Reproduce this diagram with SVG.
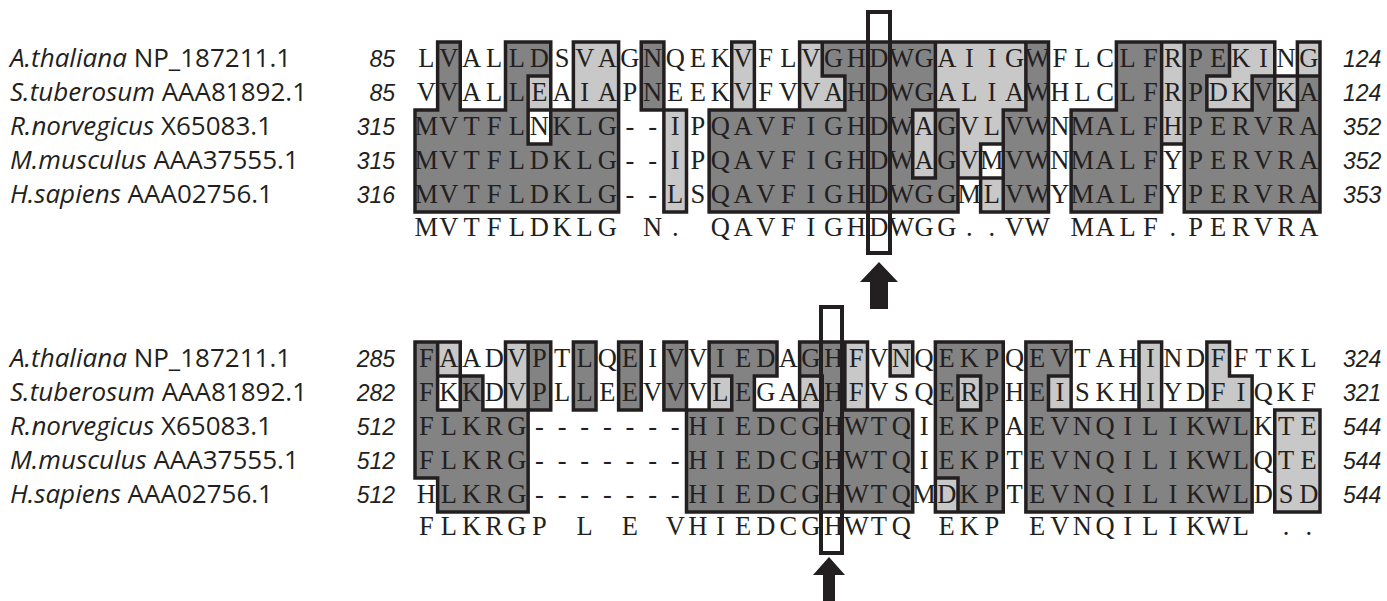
<svg xmlns="http://www.w3.org/2000/svg" width="1387" height="601" viewBox="0 0 1387 601">
<style>
.d{fill:#838383}
.l{fill:#c8c8c9}
.ol{fill:none;stroke:#231f20;stroke-width:3.5;stroke-linecap:square;vector-effect:non-scaling-stroke}
.seq{font-family:"Liberation Serif",serif;font-size:26.5px;fill:#231f20;text-anchor:middle}
.lab{font-family:"Open Sans","Noto Sans",sans-serif;font-size:26px;fill:#231f20}
.num{font-family:"Liberation Sans",Arial,sans-serif;font-size:23px;font-style:italic;fill:#231f20}
.nl{text-anchor:end}
.hl{fill:none;stroke:#231f20;stroke-width:4}
.arr{fill:#231f20}
</style>

<g id="top-shading" transform="translate(415,42) scale(22.625,34)">
  <rect class="d" x="1" y="0" width="1" height="1"/><rect class="d" x="4" y="0" width="2" height="1"/><rect class="d" x="10" y="0" width="1" height="1"/><rect class="d" x="18" y="0" width="5" height="1"/><rect class="d" x="27" y="0" width="1" height="1"/><rect class="d" x="31" y="0" width="2" height="1"/><rect class="d" x="34" y="0" width="2" height="1"/>
  <rect class="l" x="7" y="0" width="2" height="1"/><rect class="l" x="14" y="0" width="1" height="1"/><rect class="l" x="17" y="0" width="1" height="1"/><rect class="l" x="23" y="0" width="4" height="1"/><rect class="l" x="33" y="0" width="1" height="1"/><rect class="l" x="36" y="0" width="2" height="1"/><rect class="l" x="39" y="0" width="1" height="1"/>
  <rect class="d" x="1" y="1" width="1" height="1"/><rect class="d" x="4" y="1" width="1" height="1"/><rect class="d" x="10" y="1" width="1" height="1"/><rect class="d" x="19" y="1" width="4" height="1"/><rect class="d" x="27" y="1" width="1" height="1"/><rect class="d" x="31" y="1" width="2" height="1"/><rect class="d" x="34" y="1" width="1" height="1"/><rect class="d" x="37" y="1" width="1" height="1"/><rect class="d" x="39" y="1" width="1" height="1"/>
  <rect class="l" x="5" y="1" width="1" height="1"/><rect class="l" x="7" y="1" width="2" height="1"/><rect class="l" x="14" y="1" width="1" height="1"/><rect class="l" x="17" y="1" width="2" height="1"/><rect class="l" x="23" y="1" width="4" height="1"/><rect class="l" x="33" y="1" width="1" height="1"/><rect class="l" x="35" y="1" width="2" height="1"/><rect class="l" x="38" y="1" width="1" height="1"/>
  <rect class="d" x="0" y="2" width="5" height="1"/><rect class="d" x="6" y="2" width="3" height="1"/><rect class="d" x="13" y="2" width="9" height="1"/><rect class="d" x="23" y="2" width="1" height="1"/><rect class="d" x="26" y="2" width="2" height="1"/><rect class="d" x="29" y="2" width="4" height="1"/><rect class="d" x="34" y="2" width="6" height="1"/>
  <rect class="l" x="11" y="2" width="1" height="1"/><rect class="l" x="22" y="2" width="1" height="1"/><rect class="l" x="24" y="2" width="2" height="1"/><rect class="l" x="33" y="2" width="1" height="1"/>
  <rect class="d" x="0" y="3" width="9" height="1"/><rect class="d" x="13" y="3" width="9" height="1"/><rect class="d" x="23" y="3" width="1" height="1"/><rect class="d" x="26" y="3" width="2" height="1"/><rect class="d" x="29" y="3" width="4" height="1"/><rect class="d" x="34" y="3" width="6" height="1"/>
  <rect class="l" x="11" y="3" width="1" height="1"/><rect class="l" x="22" y="3" width="1" height="1"/><rect class="l" x="24" y="3" width="1" height="1"/>
  <rect class="d" x="0" y="4" width="9" height="1"/><rect class="d" x="13" y="4" width="11" height="1"/><rect class="d" x="26" y="4" width="2" height="1"/><rect class="d" x="29" y="4" width="4" height="1"/><rect class="d" x="34" y="4" width="6" height="1"/>
  <rect class="l" x="11" y="4" width="1" height="1"/><rect class="l" x="25" y="4" width="1" height="1"/>
  <path class="ol" d="M1 0H2M4 0H6M7 0H9M10 0H11M14 0H15M17 0H28M31 0H38M39 0H40
  M5 1H6M18 1H19M35 1H36M37 1H40
  M0 2H1M2 2H4M5 2H9M10 2H12M13 2H19M22 2H24M26 2H27M29 2H31M35 2H37M38 2H39
  M5 3H6M25 3H26M33 3H34
  M22 4H23M24 4H26
  M0 5H9M11 5H12M13 5H24M25 5H28M29 5H33M34 5H40
  M0 2V5M1 0V2M2 0V2M4 0V2M5 1V3M6 0V3M7 0V2M9 0V5M10 0V2M11 0V5M12 2V5M13 2V5M14 0V2M15 0V2M17 0V2M18 0V1M19 1V2M22 2V4M23 0V4M24 2V5M25 3V5M26 2V5M27 0V2M28 0V5M29 2V5M31 0V2M33 0V5M34 0V5M35 1V2M36 0V1M37 1V2M38 0V2M39 0V2M40 0V5"/>
</g>

<g id="bottom-shading" transform="translate(415,342) scale(22.625,34)">
  <rect class="d" x="0" y="0" width="1" height="1"/><rect class="d" x="5" y="0" width="1" height="1"/><rect class="d" x="7" y="0" width="1" height="1"/><rect class="d" x="9" y="0" width="1" height="1"/><rect class="d" x="11" y="0" width="1" height="1"/><rect class="d" x="13" y="0" width="3" height="1"/><rect class="d" x="17" y="0" width="2" height="1"/><rect class="d" x="23" y="0" width="3" height="1"/><rect class="d" x="27" y="0" width="2" height="1"/>
  <rect class="l" x="1" y="0" width="1" height="1"/><rect class="l" x="4" y="0" width="1" height="1"/><rect class="l" x="19" y="0" width="1" height="1"/><rect class="l" x="21" y="0" width="1" height="1"/><rect class="l" x="32" y="0" width="1" height="1"/><rect class="l" x="35" y="0" width="1" height="1"/>
  <rect class="d" x="0" y="1" width="1" height="1"/><rect class="d" x="2" y="1" width="1" height="1"/><rect class="d" x="5" y="1" width="1" height="1"/><rect class="d" x="7" y="1" width="1" height="1"/><rect class="d" x="9" y="1" width="1" height="1"/><rect class="d" x="11" y="1" width="1" height="1"/><rect class="d" x="14" y="1" width="1" height="1"/><rect class="d" x="18" y="1" width="1" height="1"/><rect class="d" x="23" y="1" width="1" height="1"/><rect class="d" x="25" y="1" width="1" height="1"/><rect class="d" x="27" y="1" width="1" height="1"/>
  <rect class="l" x="4" y="1" width="1" height="1"/><rect class="l" x="13" y="1" width="1" height="1"/><rect class="l" x="17" y="1" width="1" height="1"/><rect class="l" x="19" y="1" width="1" height="1"/><rect class="l" x="24" y="1" width="1" height="1"/><rect class="l" x="28" y="1" width="1" height="1"/><rect class="l" x="32" y="1" width="1" height="1"/><rect class="l" x="35" y="1" width="2" height="1"/>
  <rect class="d" x="0" y="2" width="5" height="2"/><rect class="d" x="1" y="4" width="4" height="1"/>
  <rect class="d" x="12" y="2" width="10" height="3"/>
  <rect class="d" x="23" y="2" width="3" height="2"/><rect class="d" x="24" y="4" width="2" height="1"/>
  <rect class="d" x="27" y="2" width="10" height="3"/>
  <rect class="l" x="23" y="4" width="1" height="1"/><rect class="l" x="38" y="2" width="2" height="3"/>
  <path class="ol" d="M0 0H2M4 0H6M7 0H8M9 0H10M11 0H12M13 0H16M17 0H20M21 0H22M23 0H26M27 0H29M32 0H33M35 0H36
  M1 1H3M13 1H14M15 1H16M17 1H18M21 1H22M24 1H25M28 1H29M36 1H37
  M1 2H2M3 2H6M7 2H8M9 2H10M11 2H14M15 2H18M19 2H22M24 2H25M28 2H37M38 2H40
  M0 4H1M23 4H24
  M1 5H5M12 5H22M23 5H26M27 5H37M38 5H40
  M0 0V4M1 0V2M1 4V5M2 0V2M3 1V2M4 0V2M5 0V5M6 0V2M7 0V2M8 0V2M9 0V2M10 0V2M11 0V2M12 0V5M13 0V2M14 1V2M15 1V2M16 0V1M17 0V2M18 1V2M19 0V2M20 0V2M21 0V1M22 0V1M22 2V5M23 0V5M24 1V2M24 4V5M25 1V2M26 0V5M27 0V5M28 1V2M29 0V2M32 0V2M33 0V2M35 0V2M36 0V1M37 1V5M38 2V5M40 2V5"/>
</g>

<g id="top-sequences">
  <text class="seq" y="67" x="426.3 448.9 471.6 494.2 516.8 539.4 562.1 584.7 607.3 629.9 652.6 675.2 697.8 720.4 743.1 765.7 788.3 810.9 833.6 856.2 878.8 901.4 924.1 946.7 969.3 991.9 1014.6 1037.2 1059.8 1082.4 1105.1 1127.7 1150.3 1172.9 1195.6 1218.2 1240.8 1263.4 1286.1 1308.7">LVALLDSVAGNQEKVFLVGHDWGAIIGWFLCLFRPEKING</text>
  <text class="seq" y="101" x="426.3 448.9 471.6 494.2 516.8 539.4 562.1 584.7 607.3 629.9 652.6 675.2 697.8 720.4 743.1 765.7 788.3 810.9 833.6 856.2 878.8 901.4 924.1 946.7 969.3 991.9 1014.6 1037.2 1059.8 1082.4 1105.1 1127.7 1150.3 1172.9 1195.6 1218.2 1240.8 1263.4 1286.1 1308.7">VVALLEAIAPNEEKVFVVAHDWGALIAWHLCLFRPDKVKA</text>
  <text class="seq" y="135" x="426.3 448.9 471.6 494.2 516.8 539.4 562.1 584.7 607.3 629.9 652.6 675.2 697.8 720.4 743.1 765.7 788.3 810.9 833.6 856.2 878.8 901.4 924.1 946.7 969.3 991.9 1014.6 1037.2 1059.8 1082.4 1105.1 1127.7 1150.3 1172.9 1195.6 1218.2 1240.8 1263.4 1286.1 1308.7">MVTFLNKLG--IPQAVFIGHDWAGVLVWNMALFHPERVRA</text>
  <text class="seq" y="169" x="426.3 448.9 471.6 494.2 516.8 539.4 562.1 584.7 607.3 629.9 652.6 675.2 697.8 720.4 743.1 765.7 788.3 810.9 833.6 856.2 878.8 901.4 924.1 946.7 969.3 991.9 1014.6 1037.2 1059.8 1082.4 1105.1 1127.7 1150.3 1172.9 1195.6 1218.2 1240.8 1263.4 1286.1 1308.7">MVTFLDKLG--IPQAVFIGHDWAGVMVWNMALFYPERVRA</text>
  <text class="seq" y="203" x="426.3 448.9 471.6 494.2 516.8 539.4 562.1 584.7 607.3 629.9 652.6 675.2 697.8 720.4 743.1 765.7 788.3 810.9 833.6 856.2 878.8 901.4 924.1 946.7 969.3 991.9 1014.6 1037.2 1059.8 1082.4 1105.1 1127.7 1150.3 1172.9 1195.6 1218.2 1240.8 1263.4 1286.1 1308.7">MVTFLDKLG--LSQAVFIGHDWGGMLVWYMALFYPERVRA</text>
  <text class="seq" y="236" x="426.3 448.9 471.6 494.2 516.8 539.4 562.1 584.7 607.3 652.6 675.2 720.4 743.1 765.7 788.3 810.9 833.6 856.2 878.8 901.4 924.1 946.7 969.3 991.9 1014.6 1037.2 1082.4 1105.1 1127.7 1150.3 1172.9 1195.6 1218.2 1240.8 1263.4 1286.1 1308.7">MVTFLDKLGN.QAVFIGHDWGG..VWMALF.PERVRA</text>
</g>

<g id="bottom-sequences">
  <text class="seq" y="367" x="426.3 448.9 471.6 494.2 516.8 539.4 562.1 584.7 607.3 629.9 652.6 675.2 697.8 720.4 743.1 765.7 788.3 810.9 833.6 856.2 878.8 901.4 924.1 946.7 969.3 991.9 1014.6 1037.2 1059.8 1082.4 1105.1 1127.7 1150.3 1172.9 1195.6 1218.2 1240.8 1263.4 1286.1 1308.7">FAADVPTLQEIVVIEDAGHFVNQEKPQEVTAHINDFFTKL</text>
  <text class="seq" y="401" x="426.3 448.9 471.6 494.2 516.8 539.4 562.1 584.7 607.3 629.9 652.6 675.2 697.8 720.4 743.1 765.7 788.3 810.9 833.6 856.2 878.8 901.4 924.1 946.7 969.3 991.9 1014.6 1037.2 1059.8 1082.4 1105.1 1127.7 1150.3 1172.9 1195.6 1218.2 1240.8 1263.4 1286.1 1308.7">FKKDVPLLEEVVVLEGAAHFVSQERPHEISKHIYDFIQKF</text>
  <text class="seq" y="435" x="426.3 448.9 471.6 494.2 516.8 539.4 562.1 584.7 607.3 629.9 652.6 675.2 697.8 720.4 743.1 765.7 788.3 810.9 833.6 856.2 878.8 901.4 924.1 946.7 969.3 991.9 1014.6 1037.2 1059.8 1082.4 1105.1 1127.7 1150.3 1172.9 1195.6 1218.2 1240.8 1263.4 1286.1 1308.7">FLKRG-------HIEDCGHWTQIEKPAEVNQILIKWLKTE</text>
  <text class="seq" y="469" x="426.3 448.9 471.6 494.2 516.8 539.4 562.1 584.7 607.3 629.9 652.6 675.2 697.8 720.4 743.1 765.7 788.3 810.9 833.6 856.2 878.8 901.4 924.1 946.7 969.3 991.9 1014.6 1037.2 1059.8 1082.4 1105.1 1127.7 1150.3 1172.9 1195.6 1218.2 1240.8 1263.4 1286.1 1308.7">FLKRG-------HIEDCGHWTQIEKPTEVNQILIKWLQTE</text>
  <text class="seq" y="503" x="426.3 448.9 471.6 494.2 516.8 539.4 562.1 584.7 607.3 629.9 652.6 675.2 697.8 720.4 743.1 765.7 788.3 810.9 833.6 856.2 878.8 901.4 924.1 946.7 969.3 991.9 1014.6 1037.2 1059.8 1082.4 1105.1 1127.7 1150.3 1172.9 1195.6 1218.2 1240.8 1263.4 1286.1 1308.7">HLKRG-------HIEDCGHWTQMDKPTEVNQILIKWLDSD</text>
  <text class="seq" y="535" x="426.3 448.9 471.6 494.2 516.8 539.4 584.7 629.9 675.2 697.8 720.4 743.1 765.7 788.3 810.9 833.6 856.2 878.8 901.4 946.7 969.3 991.9 1037.2 1059.8 1082.4 1105.1 1127.7 1150.3 1172.9 1195.6 1218.2 1240.8 1286.1 1308.7">FLKRGPLEVHIEDCGHWTQEKPEVNQILIKWL..</text>
</g>

<g id="top-labels">
  <text class="lab" x="10" y="67"><tspan font-style="italic">A.thaliana</tspan> NP_187211.1</text>
  <text class="lab" x="10" y="101"><tspan font-style="italic">S.tuberosum</tspan> AAA81892.1</text>
  <text class="lab" x="10" y="135"><tspan font-style="italic">R.norvegicus</tspan> X65083.1</text>
  <text class="lab" x="10" y="169"><tspan font-style="italic">M.musculus</tspan> AAA37555.1</text>
  <text class="lab" x="10" y="203"><tspan font-style="italic">H.sapiens</tspan> AAA02756.1</text>
  <text class="num nl" x="395" y="67">85</text>
  <text class="num nl" x="395" y="101">85</text>
  <text class="num nl" x="395" y="135">315</text>
  <text class="num nl" x="395" y="169">315</text>
  <text class="num nl" x="395" y="203">316</text>
  <text class="num" x="1343" y="67">124</text>
  <text class="num" x="1343" y="101">124</text>
  <text class="num" x="1343" y="135">352</text>
  <text class="num" x="1343" y="169">352</text>
  <text class="num" x="1343" y="203">353</text>
</g>

<g id="bottom-labels">
  <text class="lab" x="10" y="367"><tspan font-style="italic">A.thaliana</tspan> NP_187211.1</text>
  <text class="lab" x="10" y="401"><tspan font-style="italic">S.tuberosum</tspan> AAA81892.1</text>
  <text class="lab" x="10" y="435"><tspan font-style="italic">R.norvegicus</tspan> X65083.1</text>
  <text class="lab" x="10" y="469"><tspan font-style="italic">M.musculus</tspan> AAA37555.1</text>
  <text class="lab" x="10" y="503"><tspan font-style="italic">H.sapiens</tspan> AAA02756.1</text>
  <text class="num nl" x="395" y="367">285</text>
  <text class="num nl" x="395" y="401">282</text>
  <text class="num nl" x="395" y="435">512</text>
  <text class="num nl" x="395" y="469">512</text>
  <text class="num nl" x="395" y="503">512</text>
  <text class="num" x="1343" y="367">324</text>
  <text class="num" x="1343" y="401">321</text>
  <text class="num" x="1343" y="435">544</text>
  <text class="num" x="1343" y="469">544</text>
  <text class="num" x="1343" y="503">544</text>
</g>

<g id="highlights">
  <rect class="hl" x="868" y="12" width="22" height="241"/>
  <rect class="hl" x="821" y="307" width="21" height="246"/>
</g>

<g id="arrows">
  <polygon class="arr" points="879,262 898,282 888,282 888,309 870,309 870,282 860,282"/>
  <polygon class="arr" points="829,557 845,575 835,575 835,601 823,601 823,575 813,575"/>
</g>
</svg>
